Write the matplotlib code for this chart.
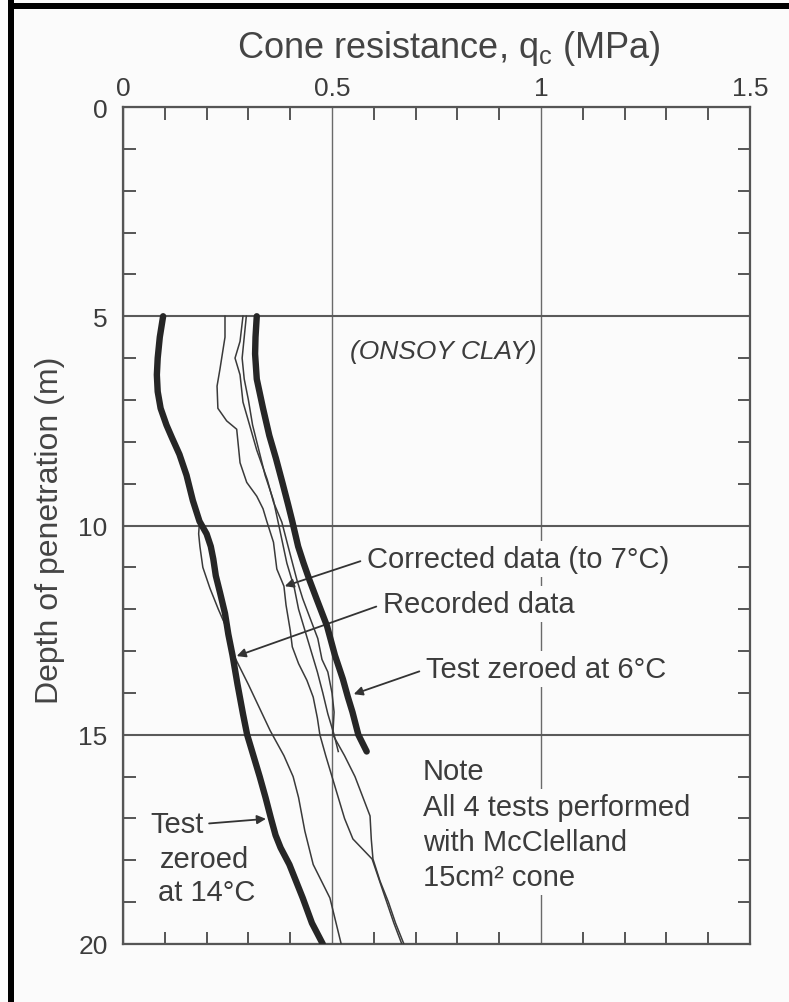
import matplotlib
matplotlib.use('Agg')
import matplotlib.pyplot as plt
from matplotlib.patches import Rectangle
from matplotlib.ticker import FixedLocator, FixedFormatter

plt.rcParams['font.family'] = ['Liberation Sans', 'DejaVu Sans']
plt.rcParams['mathtext.fontset'] = 'custom'
plt.rcParams['mathtext.rm'] = 'Liberation Sans'
plt.rcParams['mathtext.it'] = 'Liberation Sans:italic'

# ---------------- data ----------------
x_major = [0, 0.5, 1.0, 1.5]
x_labels = ['0', '0.5', '1', '1.5']
y_major = [0, 5, 10, 15, 20]
y_labels = ['0', '5', '10', '15', '20']

# Test zeroed at 14 C (thick, recorded)
depth_14 = [5.0, 5.5, 6.0, 6.4, 6.8, 7.2, 7.6, 7.9, 8.3, 8.8, 9.4, 9.9, 10.2, 10.5,
            10.8, 11.2, 11.6, 12.1, 12.6, 13.1, 13.8, 14.5, 15.0, 15.5, 16.0, 16.5,
            17.0, 17.4, 17.7, 18.1, 18.5, 18.9, 19.5, 20.0]
qc_14 = [0.096, 0.088, 0.083, 0.081, 0.083, 0.090, 0.104, 0.117, 0.135, 0.152, 0.167,
         0.183, 0.200, 0.210, 0.216, 0.222, 0.232, 0.244, 0.252, 0.262, 0.274, 0.287,
         0.297, 0.312, 0.327, 0.341, 0.354, 0.365, 0.377, 0.398, 0.414, 0.430, 0.452,
         0.478]

# Corrected data for the 14 C test (thin)
depth_14c = [9.9, 10.2, 10.5, 11.0, 11.5, 12.0, 12.5, 13.1, 13.8, 14.9, 15.5, 16.0,
             16.5, 17.3, 18.1, 18.9, 20.0]
qc_14c = [0.183, 0.181, 0.184, 0.191, 0.208, 0.228, 0.250, 0.265, 0.300, 0.352, 0.385,
          0.407, 0.420, 0.435, 0.455, 0.495, 0.522]

# Test zeroed at 6 C (thick, recorded)
depth_6 = [5.0, 5.5, 5.9, 6.5, 7.2, 7.85, 8.4, 9.0, 9.5, 9.9, 10.5, 10.9, 11.3, 11.75,
           12.4, 13.1, 13.67, 14.1, 14.46, 15.0, 15.4]
qc_6 = [0.320, 0.317, 0.316, 0.320, 0.335, 0.350, 0.366, 0.382, 0.395, 0.405, 0.419,
        0.432, 0.446, 0.463, 0.488, 0.507, 0.526, 0.538, 0.549, 0.563, 0.583]

# Other thin traces
depth_a = [5.0, 5.5, 6.26, 6.67, 7.2, 7.5, 7.7, 8.0, 8.5, 8.97, 9.3, 9.6, 9.9, 10.4,
           11.04, 11.45, 11.9, 12.5, 12.9, 13.3, 13.7, 14.1, 14.6, 15.0, 15.5, 16.0,
           16.5, 17.0, 17.49, 17.97, 18.5, 19.0, 19.5, 20.0]
qc_a = [0.244, 0.244, 0.232, 0.225, 0.227, 0.248, 0.272, 0.275, 0.280, 0.296, 0.320,
        0.335, 0.344, 0.360, 0.368, 0.385, 0.390, 0.400, 0.405, 0.420, 0.440, 0.455,
        0.465, 0.471, 0.485, 0.500, 0.515, 0.530, 0.550, 0.596, 0.614, 0.631, 0.648,
        0.667]

depth_b = [5.0, 5.6, 6.0, 6.4, 7.05, 7.5, 8.2, 8.9, 9.44, 9.92, 10.5, 11.3, 11.75,
           12.2, 12.7, 13.2, 13.5, 14.0, 14.46, 15.0, 15.5, 16.0, 16.94, 17.5, 17.97,
           18.5, 19.0, 19.5, 20.0]
qc_b = [0.287, 0.280, 0.268, 0.280, 0.287, 0.300, 0.320, 0.345, 0.360, 0.380, 0.395,
        0.416, 0.430, 0.447, 0.466, 0.476, 0.490, 0.500, 0.505, 0.502, 0.530, 0.555,
        0.591, 0.594, 0.598, 0.615, 0.635, 0.652, 0.672]

depth_c = [5.0, 5.5, 6.0, 6.5, 7.0, 7.6, 8.2, 8.8, 9.4, 10.1, 10.9, 11.5, 12.0, 12.5,
           13.0, 13.5, 14.0, 14.5, 15.0, 15.4]
qc_c = [0.295, 0.290, 0.285, 0.290, 0.300, 0.310, 0.325, 0.340, 0.360, 0.375, 0.392,
        0.410, 0.420, 0.435, 0.450, 0.465, 0.478, 0.490, 0.505, 0.515]

# ---------------- figure ----------------
W, H = 789, 1003
fig = plt.figure(figsize=(W / 100, H / 100), dpi=100, facecolor='#fbfbfb')
ax = fig.add_axes([123 / W, 1 - 945 / H, (750 - 123) / W, (945 - 108) / H])
ax.set_facecolor('#fbfbfb')
ax.set_xlim(0, 1.5)
ax.set_ylim(20, 0)

TXT = '#3c3c3c'
GRID = '#5a5a5a'

for s in ax.spines.values():
    s.set_color('#555555')
    s.set_linewidth(1.6)

ax.xaxis.set_major_locator(FixedLocator(x_major))
ax.xaxis.set_major_formatter(FixedFormatter(x_labels))
ax.yaxis.set_major_locator(FixedLocator(y_major))
ax.yaxis.set_major_formatter(FixedFormatter(y_labels))
ax.xaxis.set_minor_locator(FixedLocator([i / 10 for i in range(1, 15) if i % 5]))
ax.yaxis.set_minor_locator(FixedLocator([i for i in range(1, 20) if i % 5]))

ax.tick_params(axis='x', which='major', top=True, bottom=False, labeltop=True,
               labelbottom=False, length=0, pad=5, labelsize=19, labelcolor=TXT)
ax.tick_params(axis='y', which='major', left=True, right=False, length=0, pad=11,
               labelsize=19, labelcolor=TXT)
ax.tick_params(axis='x', which='minor', top=True, bottom=True, direction='in',
               length=9, width=1.4, color='#555555')
ax.tick_params(axis='y', which='minor', left=True, right=True, direction='in',
               length=9, width=1.4, color='#555555')

ax.set_axisbelow(True)
ax.yaxis.grid(True, which='major', color=GRID, lw=1.5)
ax.xaxis.grid(True, which='major', color='#6a6a6a', lw=1.0)

thick = dict(color='#262626', lw=4.6, solid_capstyle='round', solid_joinstyle='round', zorder=3)
thin = dict(color='#3a3a3a', lw=1.1, solid_joinstyle='round', zorder=3)

ax.plot(qc_a, depth_a, **thin)
ax.plot(qc_b, depth_b, **thin)
ax.plot(qc_c, depth_c, **thin)
ax.plot(qc_14c, depth_14c, **thin)
ax.plot(qc_14, depth_14, **thick)
ax.plot(qc_6, depth_6, **thick)

# ---------------- text ----------------
FS = 21
box = dict(facecolor='#fbfbfb', edgecolor='none', pad=3)
arrow = dict(arrowstyle='-|>', color='#333333', lw=1.3, mutation_scale=13,
             shrinkA=2, shrinkB=0, relpos=(0, 0.5))

ax.text(0.543, 5.83, '(ONSOY CLAY)', fontsize=19, style='italic', color=TXT,
        ha='left', va='center')

ax.annotate('Corrected data (to 7°C)', xy=(0.387, 11.45), xytext=(0.584, 10.80),
            fontsize=FS, color=TXT, ha='left', va='center', bbox=box,
            arrowprops=arrow, zorder=2)
ax.annotate('Recorded data', xy=(0.272, 13.12), xytext=(0.622, 11.88),
            fontsize=FS, color=TXT, ha='left', va='center', bbox=box,
            arrowprops=arrow, zorder=2)
ax.annotate('Test zeroed at 6°C', xy=(0.552, 14.03), xytext=(0.725, 13.43),
            fontsize=FS, color=TXT, ha='left', va='center', bbox=box,
            arrowprops=arrow, zorder=2)

arrow_r = dict(arrow, relpos=(1, 0.5))
ax.annotate('Test', xy=(0.342, 17.01), xytext=(0.065, 17.13),
            fontsize=FS, color=TXT, ha='left', va='center',
            arrowprops=arrow_r, zorder=2)
ax.text(0.088, 17.98, 'zeroed', fontsize=FS, color=TXT, ha='left', va='center')
ax.text(0.083, 18.75, 'at 14°C', fontsize=FS, color=TXT, ha='left', va='center')

note_lines = ['Note', 'All 4 tests performed', 'with McClelland', '15cm² cone']
note_y = [15.87, 16.73, 17.56, 18.40]
for t, yy in zip(note_lines, note_y):
    ax.text(0.718, yy, t, fontsize=FS, color=TXT, ha='left', va='center',
            bbox=box, zorder=2)

fig.text(449 / W, 1 - 48 / H, r'Cone resistance, q$_\mathrm{c}$ (MPa)', ha='center',
         va='center', fontsize=26, color='#444444')
fig.text(50 / W, 1 - 530 / H, 'Depth of penetration (m)', rotation=90, ha='center',
         va='center', fontsize=23, color='#444444')

# scanned-page black frame (left and top edges)
fig.add_artist(Rectangle((8 / W, 0), 6 / W, 1, transform=fig.transFigure,
                         facecolor='black', edgecolor='none'))
fig.add_artist(Rectangle((8 / W, 1 - 10 / H), 1, 6 / H, transform=fig.transFigure,
                         facecolor='black', edgecolor='none'))

fig.savefig('out.png', dpi=100, facecolor=fig.get_facecolor())
